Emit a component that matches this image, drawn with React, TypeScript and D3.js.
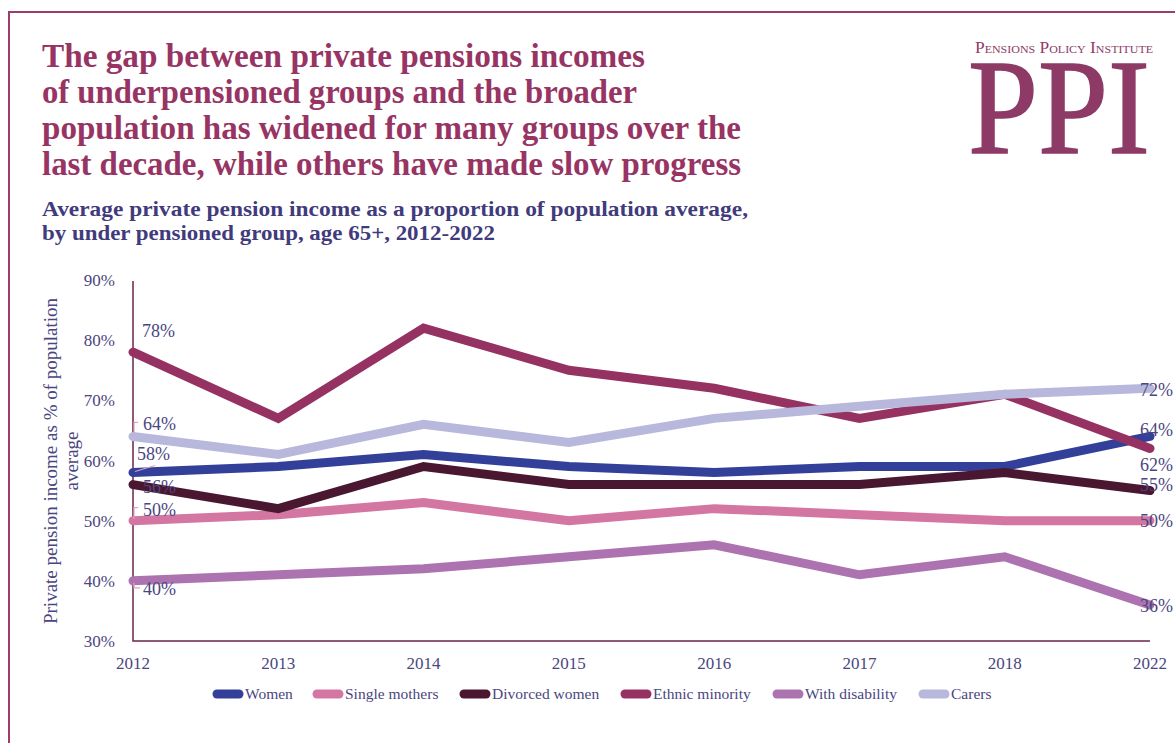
import React from "react";
import * as d3 from "d3";

const years = ["2012", "2013", "2014", "2015", "2016", "2017", "2018", "2022"];
const women = [58, 59, 61, 59, 58, 59, 59, 64];
const singleMothers = [50, 51, 53, 50, 52, 51, 50, 50];
const divorcedWomen = [56, 52, 59, 56, 56, 56, 58, 55];
const ethnicMinority = [78, 67, 82, 75, 72, 67, 71, 62];
const withDisability = [40, 41, 42, 44, 46, 41, 44, 36];
const carers = [64, 61, 66, 63, 67, 69, 71, 72];
const yTicks = [30, 40, 50, 60, 70, 80, 90];

const seriesNames = ["Women", "Single mothers", "Divorced women", "Ethnic minority", "With disability", "Carers"];
const seriesValues = [women, singleMothers, divorcedWomen, ethnicMinority, withDisability, carers];
const seriesColors = ["#33409a", "#d376a1", "#4a1731", "#953262", "#ad73b0", "#b7b8dc"];

const titleLines = [
  "The gap between private pensions incomes",
  "of underpensioned groups and the broader",
  "population has widened for many groups over the",
  "last decade, while others have made slow progress",
];
const titleWidths = [603, 595, 699, 699];
const subtitleLines = [
  "Average private pension income as a proportion of population average,",
  "by under pensioned group, age 65+, 2012-2022",
];
const subtitleWidths = [706, 453];

const legendX = [212, 312, 459, 620, 772, 918];

const TEXT = "#4a4680";
const FONT = "'Liberation Serif', 'Times New Roman', serif";

export default function App() {
  const x = d3.scalePoint<string>().domain(years).range([133, 1150]);
  const y = d3.scaleLinear().domain([30, 90]).range([641, 280]);
  const line = d3
    .line<number>()
    .x((_, i) => x(years[i]) as number)
    .y((d) => y(d));

  const last = years.length - 1;
  const x0 = x(years[0]) as number;
  const xN = x(years[last]) as number;

  const leftLabel = [
    { s: 3, dx: 9, dy: -15 },
    { s: 5, dx: 10, dy: -6 },
    { s: 0, dx: 4, dy: -13 },
    { s: 2, dx: 10, dy: 8 },
    { s: 1, dx: 10, dy: -5 },
    { s: 4, dx: 10, dy: 14 },
  ];
  const rightLabel = [
    { s: 5, dy: 8 },
    { s: 0, dy: 0 },
    { s: 3, dy: 23 },
    { s: 2, dy: 0 },
    { s: 1, dy: 6 },
    { s: 4, dy: 7 },
  ];

  return (
    <svg
      width={1175}
      height={743}
      style={{ position: "fixed", top: 0, left: 0, background: "#fff" }}
      fontFamily={FONT}
    >
      <rect x={0} y={0} width={1175} height={743} fill="#fff" />
      <path d="M9,743 V12 H1175" fill="none" stroke="#9c3d6c" strokeWidth={2} />

      {titleLines.map((t, i) => (
        <text
          key={t}
          x={42}
          y={67 + i * 36}
          fontSize={33}
          fontWeight="bold"
          fill="#973463"
          textLength={titleWidths[i]}
          lengthAdjust="spacingAndGlyphs"
        >
          {t}
        </text>
      ))}
      {subtitleLines.map((t, i) => (
        <text
          key={t}
          x={42}
          y={216 + i * 24}
          fontSize={20.5}
          fontWeight="bold"
          fill="#3f3b7c"
          textLength={subtitleWidths[i]}
          lengthAdjust="spacingAndGlyphs"
        >
          {t}
        </text>
      ))}

      <text
        x={975}
        y={53}
        fontSize={16}
        fill="#8e3a66"
        style={{ fontVariant: "small-caps" }}
        textLength={178}
        lengthAdjust="spacingAndGlyphs"
      >
        Pensions Policy Institute
      </text>
      <text
        x={968}
        y={153}
        fontSize={135}
        fill="#8e3a66"
        stroke="#8e3a66"
        strokeWidth={1.5}
        textLength={182}
        lengthAdjust="spacingAndGlyphs"
      >
        PPI
      </text>

      <g transform="translate(57,461) rotate(-90)">
        <text x={0} y={0} textAnchor="middle" fontSize={19} fill={TEXT}>
          Private pension income as % of population
        </text>
        <text x={0} y={21} textAnchor="middle" fontSize={19} fill={TEXT}>
          average
        </text>
      </g>

      {yTicks.map((t) => (
        <text key={t} x={115} y={y(t) + 6} textAnchor="end" fontSize={17} fill={TEXT}>
          {t}%
        </text>
      ))}
      {years.map((yr) => (
        <text key={yr} x={x(yr) as number} y={669} textAnchor="middle" fontSize={17} fill={TEXT}>
          {yr}
        </text>
      ))}

      <path d={`M${x0},${y(90) + 1} V${y(30)} H${xN}`} fill="none" stroke="#6b2448" strokeWidth={1.5} />

      {seriesValues.map((vals, i) => (
        <path
          key={seriesNames[i]}
          d={line(vals) as string}
          fill="none"
          stroke={seriesColors[i]}
          strokeWidth={9}
          strokeLinecap="round"
          strokeLinejoin="miter"
        />
      ))}

      <g stroke="#e39fc1" strokeWidth={1.2} fill="none">
        <path d={`M${x0 + 1},${y(carers[0]) - 2} V${y(carers[0]) - 14} H${x0 + 5}`} />
        <path d={`M${x0 + 2},${y(women[0]) - 1} L${x0 + 22},${y(women[0]) - 7}`} />
        <path d={`M${x0 + 1},${y(singleMothers[0]) - 2} V${y(singleMothers[0]) - 13} H${x0 + 5}`} />
        <path d={`M${x0 + 1},${y(withDisability[0]) + 2} V${y(withDisability[0]) + 7} H${x0 + 7}`} />
      </g>

      {leftLabel.map((l) => (
        <text
          key={"l" + l.s}
          x={x0 + l.dx}
          y={y(seriesValues[l.s][0]) + l.dy}
          fontSize={18}
          fill={TEXT}
        >
          {seriesValues[l.s][0]}%
        </text>
      ))}
      {rightLabel.map((l) => (
        <text
          key={"r" + l.s}
          x={xN - 10}
          y={y(seriesValues[l.s][last]) + l.dy}
          fontSize={18}
          fill={TEXT}
        >
          {seriesValues[l.s][last]}%
        </text>
      ))}

      {seriesNames.map((n, i) => (
        <g key={n}>
          <line
            x1={legendX[i] + 5}
            x2={legendX[i] + 27}
            y1={694}
            y2={694}
            stroke={seriesColors[i]}
            strokeWidth={9}
            strokeLinecap="round"
          />
          <text x={legendX[i] + 33} y={699} fontSize={15.5} fill={TEXT}>
            {n}
          </text>
        </g>
      ))}
    </svg>
  );
}
